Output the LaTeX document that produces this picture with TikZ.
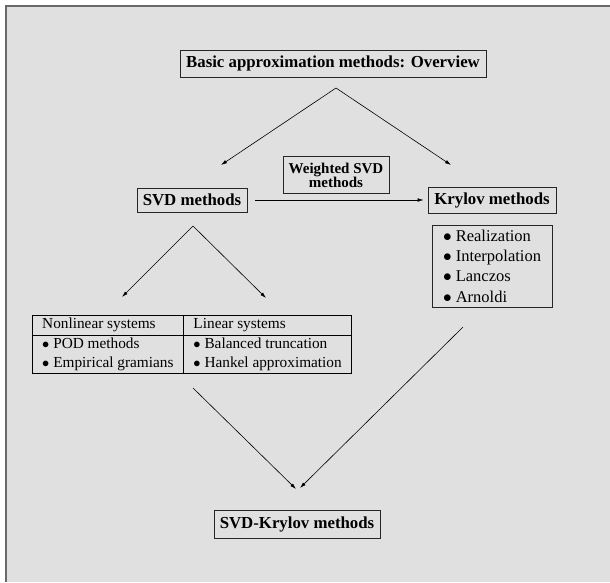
\documentclass[tikz,border=0pt]{standalone}
\usepackage{fontspec}
\setmainfont{Liberation Serif}
\usepackage{tikz}
\usetikzlibrary{arrows,arrows.meta,shapes,positioning}

\definecolor{bggray}{RGB}{224,224,224}
\definecolor{framegray}{RGB}{105,105,105}
\tikzset{
  box/.style={draw=black!85,line width=0.8pt,inner sep=0pt,
    font=\bfseries\fontsize{16.8}{20}\selectfont},
  conn/.style={line width=0.6pt,-{Latex[length=6pt,width=3.6pt]}}
}
\newcommand{\itm}{$\bullet$\ }

\begin{document}
\begin{tikzpicture}[x=1pt,y=-1pt]
  \useasboundingbox (0,0) rectangle (610,582);
  \fill[bggray] (6,6) rectangle (610,582);
  \draw[framegray,line width=1.4pt] (6,582) -- (6,6) -- (610,6);

  % top level
  \node[box,minimum width=306pt,minimum height=27pt] (overview) at (333,63.5)
    {Basic approximation methods: Overview};
  \coordinate (topfork) at (336,88);
  \coordinate (tosvd) at (221,165);
  \coordinate (tokrylov) at (451,165);
  \draw[conn] (topfork) -- (tosvd);
  \draw[conn] (topfork) -- (tokrylov);

  % second level
  \node[box,minimum width=110pt,minimum height=24pt] (svd) at (192,200) {SVD methods};
  \node[box,minimum width=128pt,minimum height=26pt] (krylov) at (492,200) {Krylov methods};
  \node[box,minimum width=106pt,minimum height=37pt,align=center,
    font=\bfseries\fontsize{15}{14}\selectfont] (weighted) at (336,175)
    {Weighted SVD\\methods};
  \draw[conn,shorten <=8pt,shorten >=4pt] (svd) -- (krylov);

  \node[box,font=\fontsize{16.5}{20.3}\selectfont,align=left,
    minimum width=120pt,minimum height=82pt,inner xsep=11pt] (krylist) at (492,266)
    {\itm Realization\\ \itm Interpolation\\ \itm Lanczos\\ \itm Arnoldi};

  % svd branch
  \coordinate (svdfork) at (193,226);
  \coordinate (tononlin) at (122,297);
  \coordinate (tolin) at (266,298);
  \draw[conn] (svdfork) -- (tononlin);
  \draw[conn] (svdfork) -- (tolin);

  \node[inner sep=0pt,font=\fontsize{15.3}{19}\selectfont] (systems) at (192,344.5) {%
    \setlength{\tabcolsep}{10pt}\setlength{\arrayrulewidth}{0.8pt}%
    \begin{tabular}{|l|l|}\hline
      Nonlinear systems & Linear systems\\\hline
      \itm POD methods & \itm Balanced truncation\\
      \itm Empirical gramians & \itm Hankel approximation\\\hline
    \end{tabular}};

  % bottom
  \node[box,minimum width=166pt,minimum height=28pt] (svdkrylov) at (297,524) {SVD-Krylov methods};
  \coordinate (fromsys) at (193,388);
  \coordinate (fromkry) at (463,327);
  \coordinate (joinleft) at (296,489);
  \coordinate (joinright) at (300,488);
  \draw[conn] (fromsys) -- (joinleft);
  \draw[conn] (fromkry) -- (joinright);
\end{tikzpicture}
\end{document}
